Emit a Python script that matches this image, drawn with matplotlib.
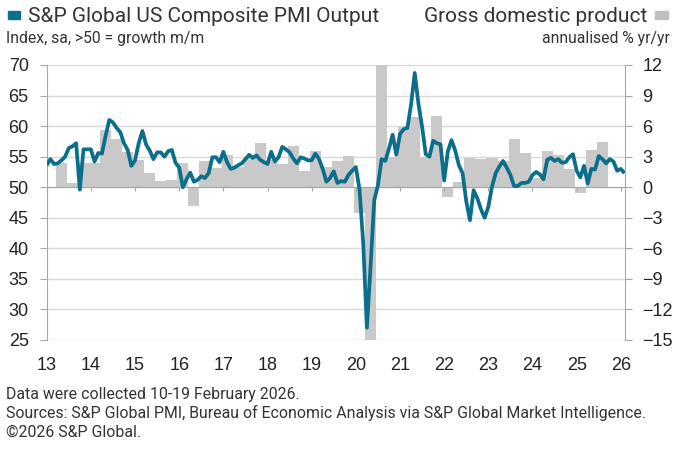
import matplotlib
matplotlib.use("Agg")
import matplotlib.pyplot as plt
import numpy as np
from matplotlib.patches import Rectangle

# S&P Global US Composite PMI Output, monthly Jan 2013 .. Feb 2026
pmi_2013 = [53.6, 54.6, 53.8, 53.9, 54.4, 55.0, 56.4, 56.7, 57.2, 49.6, 56.2, 56.2]
pmi_2014 = [56.2, 54.2, 55.6, 55.5, 58.4, 61.0, 60.6, 59.7, 59.0, 57.2, 56.1, 53.5]
pmi_2015 = [54.4, 57.2, 59.2, 57.0, 56.0, 54.6, 55.7, 55.7, 55.0, 55.9, 56.1, 54.0]
pmi_2016 = [53.2, 50.0, 51.3, 52.4, 50.9, 51.2, 51.8, 51.5, 52.3, 54.9, 54.9, 54.1]
pmi_2017 = [55.8, 54.1, 53.0, 53.2, 53.6, 53.9, 54.6, 55.3, 54.8, 55.2, 54.5, 54.1]
pmi_2018 = [53.8, 55.8, 54.2, 54.9, 56.6, 56.2, 55.7, 54.7, 53.9, 54.9, 54.7, 54.4]
pmi_2019 = [54.4, 55.5, 54.6, 53.0, 50.9, 51.5, 52.6, 50.7, 51.0, 50.9, 52.0, 52.7]
pmi_2020 = [53.3, 49.6, 40.9, 27.0, 37.0, 47.9, 50.3, 54.6, 54.3, 56.3, 58.6, 55.3]
pmi_2021 = [58.7, 59.5, 59.7, 63.5, 68.7, 63.7, 59.9, 55.4, 55.0, 57.6, 57.2, 57.0]
pmi_2022 = [51.1, 55.9, 57.7, 56.0, 53.6, 52.3, 47.7, 44.6, 49.5, 48.2, 46.4, 45.0]
pmi_2023 = [46.8, 50.1, 52.3, 53.4, 54.3, 53.2, 52.0, 50.2, 50.2, 50.7, 50.7, 50.9]
pmi_2024 = [52.0, 52.5, 52.1, 51.3, 54.5, 54.8, 54.3, 54.6, 54.0, 54.1, 54.9, 55.4]
pmi_2025 = [52.7, 51.6, 53.5, 50.6, 53.0, 52.9, 55.1, 54.6, 53.9, 54.6, 54.2, 52.7]
pmi_2026 = [53.0, 52.3]

# GDP, annualised %, quarterly Q2 2013 .. Q3 2025
gdp = [2.4, 0.4, 2.4, 2.4, 5.6, 4.7, 3.5, 2.7, 1.4, 0.65,
       0.75, 2.4, -1.8, 2.6, 1.9, 3.2, 2.0, 3.0, 4.3, 2.65,
       2.3, 4.0, 1.6, 3.6, 2.0, 2.6, 3.1, -2.5, -28.0, 34.8,
       3.0, 5.9, 6.9, 3.0, 6.95, -1.0, 0.5, 2.85, 2.8, 2.9,
       2.6, 4.7, 3.4, 0.9, 3.6, 3.2, 1.8, -0.6, 3.7, 4.4]

year_labels = ["13", "14", "15", "16", "17", "18", "19",
               "20", "21", "22", "23", "24", "25", "26"]

pmi = (pmi_2013 + pmi_2014 + pmi_2015 + pmi_2016 + pmi_2017 + pmi_2018
       + pmi_2019 + pmi_2020 + pmi_2021 + pmi_2022 + pmi_2023 + pmi_2024
       + pmi_2025 + pmi_2026)

TEAL = "#0b6e8a"
BAR = "#c9c9c9"
GRID = "#d9d9d9"
AXIS = "#a6a6a6"
TXT = "#222222"

months = np.arange(len(pmi))
quarter_mid = 4 + 3 * np.arange(len(gdp))  # middle month of each quarter
year_pos = 12 * np.arange(len(year_labels))

fig = plt.figure(figsize=(6.76, 4.5), dpi=100)
ax_gdp = fig.add_axes([46.7 / 676, 1 - 340 / 450, (624.5 - 46.7) / 676, 275 / 450])
ax_pmi = ax_gdp.twinx()

# GDP bars on the right-hand scale (drawn behind)
ax_gdp.bar(quarter_mid, gdp, width=3, color=BAR, linewidth=0, zorder=2)
ax_gdp.set_ylim(-15, 12)
ax_gdp.set_yticks(np.arange(-15, 13, 3))
ax_gdp.yaxis.tick_right()
ax_gdp.grid(axis="y", color=GRID, linewidth=1)
ax_gdp.set_axisbelow(True)
ax_gdp.set_xlim(0, len(pmi) - 1)
ax_gdp.set_xticks(year_pos)
ax_gdp.set_xticklabels(year_labels)
ax_gdp.tick_params(axis="x", length=0, pad=12)
ax_gdp.tick_params(axis="y", direction="out", length=5, color=AXIS, pad=8)
for side in ["left", "top", "bottom"]:
    ax_gdp.spines[side].set_visible(False)
ax_gdp.spines["right"].set_color(AXIS)

# PMI line on the left-hand scale
ax_pmi.plot(months, pmi, color=TEAL, linewidth=2.7, zorder=3,
            solid_joinstyle="round", solid_capstyle="butt")
ax_pmi.set_ylim(25, 70)
ax_pmi.set_yticks(np.arange(25, 71, 5))
ax_pmi.yaxis.tick_left()
ax_pmi.tick_params(axis="y", direction="out", length=5, color=AXIS, pad=8)
ax_pmi.xaxis.set_visible(True)
ax_pmi.set_xticks(year_pos)
ax_pmi.tick_params(axis="x", direction="out", length=3, color=AXIS, labelbottom=False)
ax_pmi.spines["bottom"].set_position(("data", 50))
ax_pmi.spines["bottom"].set_color(AXIS)
ax_pmi.spines["left"].set_color(AXIS)
ax_pmi.spines["right"].set_visible(False)
ax_pmi.spines["top"].set_visible(False)

for ax in (ax_gdp, ax_pmi):
    for lab in ax.get_xticklabels() + ax.get_yticklabels():
        lab.set_fontfamily("Liberation Sans")
        lab.set_fontsize(13)
        lab.set_color(TXT)

# header
fig.patches.append(Rectangle((8 / 676, 1 - 19 / 450), 12 / 676, 8 / 450,
                             transform=fig.transFigure, color=TEAL))
fig.patches.append(Rectangle((655 / 676, 1 - 19 / 450), 13 / 676, 8 / 450,
                             transform=fig.transFigure, color="#bfbfbf"))
fig.text(28 / 676, 1 - 16 / 450, "S&P Global US Composite PMI Output",
         family="Roboto", fontsize=15, color="#333333", va="center", ha="left")
fig.text(647 / 676, 1 - 16 / 450, "Gross domestic product",
         family="Roboto", fontsize=15, color="#333333", va="center", ha="right")
fig.text(6 / 676, 1 - 38 / 450, "Index, sa, >50 = growth m/m",
         family="Roboto", fontsize=11.3, color="#333333", va="center", ha="left")
fig.text(670 / 676, 1 - 38 / 450, "annualised % yr/yr",
         family="Roboto", fontsize=11.3, color="#333333", va="center", ha="right")

# footer
footer = ["Data were collected 10-19 February 2026.",
          "Sources: S&P Global PMI, Bureau of Economic Analysis via S&P Global Market Intelligence.",
          "\u00a92026 S&P Global."]
for n, line in enumerate(footer):
    fig.text(6 / 676, 1 - (394 + 19 * n) / 450, line, family="Roboto",
             fontsize=11.4, color="#333333", va="center", ha="left")

fig.savefig("out.png", dpi=100)
